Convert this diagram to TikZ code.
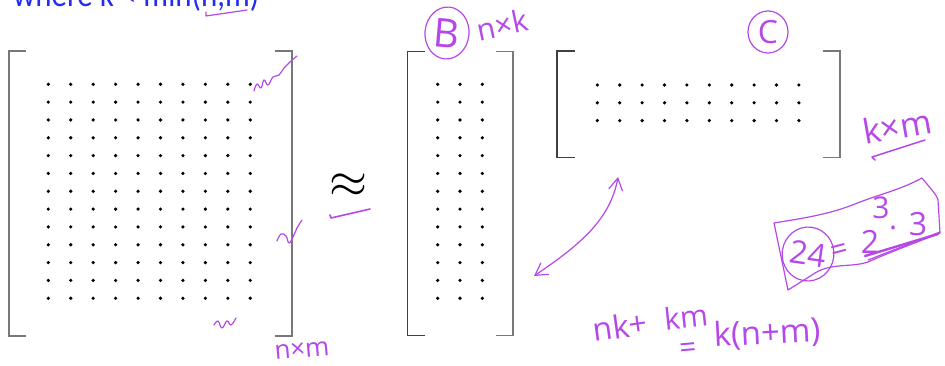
\documentclass[tikz,border=0pt]{standalone}
\usepackage{fontspec}
\usetikzlibrary{arrows.meta,shapes.geometric}
\newfontfamily\handf{Open Sans}
\newfontfamily\bluef{Carlito}
\definecolor{inkc}{RGB}{182,72,232}
\definecolor{bluetxt}{RGB}{35,45,240}
\definecolor{brk}{RGB}{120,120,120}
\begin{document}
\begin{tikzpicture}[x=1pt,y=-1pt,
  bracket/.style={draw=brk, line width=1.3pt},
  ink/.style={draw=inkc, line width=1.2pt, line cap=round, line join=round},
  hand/.style={text=inkc, inner sep=0pt},
  ring/.style={ellipse, draw=inkc, line width=1.2pt, inner sep=0pt}]
\useasboundingbox (0,0) rectangle (945,366);
\clip (0,0) rectangle (945,366);
% title
\node[text=bluetxt, anchor=base west, inner sep=0pt] (title) at (13,7)
  {\resizebox{246pt}{26pt}{\bluef\fontsize{28}{28}\selectfont where k < min(n,m)}};
% matrix A
\draw[bracket] (26,51) -- (9,51) -- (9,336) -- (26,336);
\draw[bracket] (275,51) -- (292,51) -- (292,336) -- (275,336);
\foreach \i in {0,...,9} \foreach \j in {0,...,12}
  \fill (48.3+22.44*\i, 84.3+17.83*\j) circle (1.8pt);
% approx
\node[inner sep=0pt] (approx) at (348,186) {\resizebox{38pt}{!}{$\approx$}};
% matrix B
\draw[bracket, draw=black!75] (425,51.5) -- (407.5,51.5) -- (407.5,335.5) -- (425,335.5);
\draw[bracket] (496,51.5) -- (513,51.5) -- (513,335.5) -- (496,335.5);
\foreach \i in {0,...,2} \foreach \j in {0,...,12}
  \fill (437.7+22.3*\i, 84.3+17.83*\j) circle (1.8pt);
% matrix C
\draw[bracket, draw=black!75] (575,51) -- (557,51) -- (557,157.5) -- (575,157.5);
\draw[bracket] (823,51) -- (840,51) -- (840,157.5) -- (823,157.5);
\foreach \i in {0,...,9} \foreach \j in {0,...,2}
  \fill (597.3+22.4*\i, 85+17.8*\j) circle (1.8pt);
% handwritten annotations
\draw[ink] (206,12) -- (206,16) -- (247,10);
\draw[ink, line width=1.6pt] (330,215) -- (331,218) -- (370,209);
\draw[ink] plot[smooth, tension=0.7] coordinates {(254,91) (257,84) (261,88) (264,80) (268,85) (273,77) (279,75) (284,68) (290,62) (297,56)};
\draw[ink] plot[smooth, tension=0.7] coordinates {(277,241) (281,234) (286,236) (289,243) (293,237) (297,228) (302,220)};
\draw[ink] plot[smooth, tension=0.7] coordinates {(214,325) (218,321) (222,328) (227,321) (231,325) (236,318)};
\node[hand, font=\handf\fontsize{26}{26}\selectfont, rotate=5] (amn) at (302,350) {n×m};
% B label
\node[ring, minimum width=44pt, minimum height=52pt, rotate=-5, hand, font=\handf\fontsize{40}{40}\selectfont] (Bl) at (447,33) {B};
\node[hand, font=\handf\fontsize{30}{30}\selectfont, rotate=12, anchor=west] (nk) at (477,30) {n×k};
% C label
\node[ring, minimum width=40pt, minimum height=42pt, hand, font=\handf\fontsize{32}{32}\selectfont] (Cl) at (768,32) {C};
\node[hand, font=\handf\fontsize{34}{34}\selectfont, rotate=10] (km) at (897,126) {k×m};
\draw[ink, line width=1.5pt] (875,160) -- (872,157) -- (925,140);
% double arrow
\coordinate (arrLo) at (534,276);
\coordinate (arrHi) at (618,177);
\draw[ink, {Straight Barb[length=12pt,width=14pt]}-{Straight Barb[length=12pt,width=14pt]}]
  (arrLo) .. controls (575,248) and (610,222) .. (arrHi);
% boxed 24 = 2^3 . 3
\draw[ink] (774,223) .. controls (805,218) and (830,214) .. (855,204)
  .. controls (880,194) and (900,190) .. (922,178)
  .. controls (930,188) and (937,195) .. (938,200) -- (940,233)
  .. controls (910,245) and (890,252) .. (868,262)
  .. controls (850,268) and (830,262) .. (812,275) -- (788,290) -- cycle;
\node[ring, minimum width=40pt, minimum height=54pt, rotate=-8, hand, font=\handf\fontsize{32}{32}\selectfont] (n24) at (808,254) {24};
\node[hand, font=\handf\fontsize{30}{30}\selectfont, rotate=15] (eqa) at (840,252) {=};
\node[hand, font=\handf\fontsize{32}{32}\selectfont] (two) at (870,242) {2};
\node[hand, font=\handf\fontsize{30}{30}\selectfont] (cube) at (881,208) {3};
\node[hand, font=\handf\fontsize{30}{30}\selectfont] (dot) at (893,228) {.};
\node[hand, font=\handf\fontsize{32}{32}\selectfont] (three) at (918,224) {3};
\draw[ink, line width=2.4pt] (865,256) -- (938,234);
\draw[ink] (868,260) -- (940,232);
% nk + km = k(n+m)
\node[hand, font=\handf\fontsize{32}{32}\selectfont, rotate=8] (sum1) at (620,326) {nk+};
\node[hand, font=\handf\fontsize{30}{30}\selectfont, rotate=6] (sum2) at (686,317) {km};
\node[hand, font=\handf\fontsize{30}{30}\selectfont, rotate=5] (eqb) at (688,350) {=};
\node[hand, font=\handf\fontsize{33}{33}\selectfont, rotate=3] (prod) at (767,334) {k(n+m)};
\end{tikzpicture}
\end{document}
